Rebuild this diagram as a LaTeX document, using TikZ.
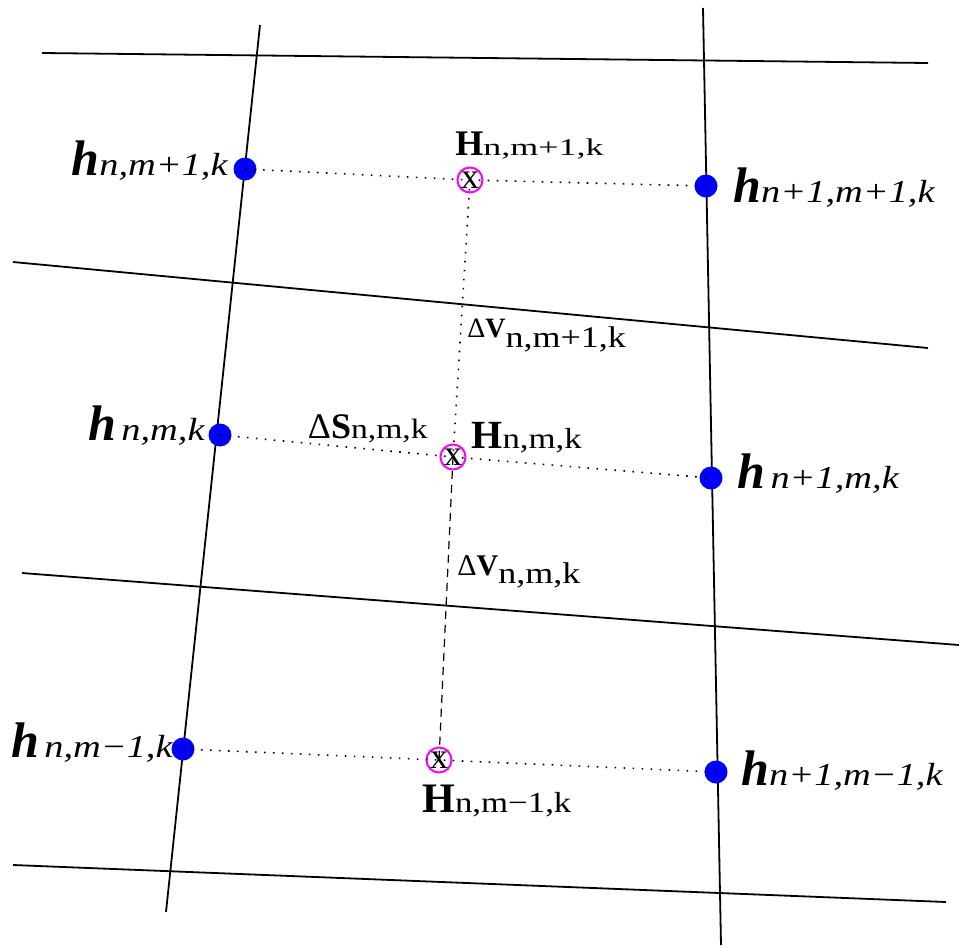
\documentclass[tikz,border=0pt]{standalone}
\usepackage{fontspec}
\setmainfont{Liberation Serif}
\newfontfamily\subfont[FakeStretch=1.2]{Liberation Serif}
\newfontfamily\widefont[FakeStretch=1.5]{Liberation Serif}
\usetikzlibrary{positioning}
\definecolor{dotblue}{RGB}{0,0,255}
\definecolor{markmag}{RGB}{255,0,255}
\newcommand{\hlab}[1]{{\fontsize{25}{25}\selectfont\bfseries\itshape h}{\subfont\fontsize{16}{16}\selectfont\itshape #1}}
% #1 sub font, #2 size of H, #3 size of sub
\newcommand{\Hlab}[4][\subfont]{{\fontsize{#2}{#2}\selectfont\bfseries H}{#1\fontsize{#3}{#3}\selectfont #4}}
% #1 size, #2 letter, #3 sub size, #4 sub, #5 shift of sub
\newcommand{\dlab}[5]{{\fontsize{#1}{#1}\selectfont Δ\textbf{#2}}\raisebox{#5}{\subfont\fontsize{#3}{#3}\selectfont #4}}
\tikzset{
  gridline/.style={line width=0.9pt},
  hdot/.style={circle, fill=dotblue, inner sep=0pt, minimum size=11.5pt},
  Hmark/.style={circle, draw=markmag, line width=1pt, inner sep=0pt,
    minimum size=12.5pt, font=\fontsize{18}{18}\selectfont},
  dotlink/.style={line width=0.8pt, dash pattern=on 0.8pt off 3.7pt},
  dashlink/.style={line width=0.6pt, dash pattern=on 4pt off 3pt},
  lab/.style={inner sep=0pt},
}

\begin{document}
\begin{tikzpicture}[x=0.5pt, y=-0.5pt]
  \useasboundingbox (0,0) rectangle (959,948);

  % mesh lines
  \draw[gridline] (42,53) -- (928,63);
  \draw[gridline] (13,262) -- (928,348);
  \draw[gridline] (22,573) -- (959,645);
  \draw[gridline] (13,865) -- (946,902);
  \draw[gridline] (260,25) -- (166,912);
  \draw[gridline] (703,8) -- (721,945);

  % nodes
  \node[hdot] (h1) at (245,169) {};
  \node[hdot] (h2) at (706,186) {};
  \node[hdot] (h3) at (220,435) {};
  \node[hdot] (h4) at (711,478) {};
  \node[hdot] (h5) at (183,749) {};
  \node[hdot] (h6) at (716,772) {};
  \node[Hmark] (H1) at (470,180) {x};
  \node[Hmark] (H2) at (453,457) {x};
  \node[Hmark] (H3) at (439,760) {x};

  \draw[dotlink] (h1.center) -- (H1.center) -- (h2.center);
  \draw[dotlink] (h3.center) -- (H2.center) -- (h4.center);
  \draw[dotlink] (h5.center) -- (H3.center) -- (h6.center);
  \draw[dotlink] (H1.center) -- (H2.center);
  \draw[dashlink] (H2.center) -- (H3.center);

  % labels
  \node[lab, anchor=base east] (lh1) at (228,175) {\hlab{n,m+1,k}};
  \node[lab, anchor=base west] (lh2) at (733,202) {\hlab{n+1,m+1,k}};
  \node[lab, anchor=base east] (lh3) at (205,440) {\hlab{\,n,m,k}};
  \node[lab, anchor=base west] (lh4) at (737,488) {\hlab{\,n+1,m,k}};
  \node[lab, anchor=base east] (lh5) at (173,757) {\hlab{\,n,m−1,k}};
  \node[lab, anchor=base west] (lh6) at (741,785) {\hlab{n+1,m−1,k}};
  \node[lab, anchor=base west] (lH1) at (455,155) {\Hlab[\widefont]{18}{12}{n,m+1,k}};
  \node[lab, anchor=base west] (lH2) at (471,448) {\Hlab{20}{14.5}{n,m,k}};
  \node[lab, anchor=base west] (lH3) at (422,812) {\Hlab{21}{14.5}{n,m−1,k}};
  \node[lab, anchor=base east] (lS) at (428,438) {\dlab{18}{S}{14}{n,m,k}{0pt}};
  \node[lab, anchor=base west] (lV1) at (467,337) {\dlab{14}{V}{15}{n,m+1,k}{-5pt}};
  \node[lab, anchor=base west] (lV2) at (457,575) {\dlab{15}{V}{15}{n,m,k}{-4pt}};
\end{tikzpicture}
\end{document}
